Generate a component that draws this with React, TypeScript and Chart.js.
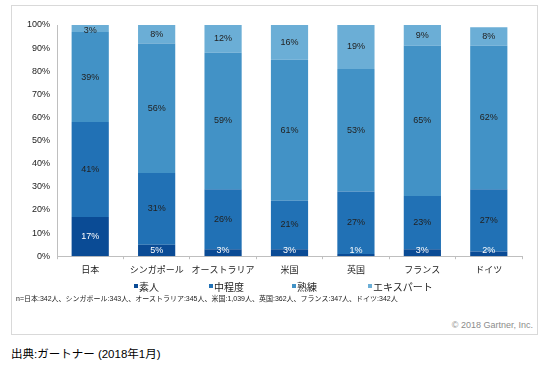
import React, { useEffect, useRef } from "react";
import { Chart, registerables } from "chart.js";

Chart.register(...registerables);

const categories = ["日本", "シンガポール", "オーストラリア", "米国", "英国", "フランス", "ドイツ"];
const seriesNames = ["素人", "中程度", "熟練", "エキスパート"];
const novice = [17, 5, 3, 3, 1, 3, 2];
const intermediate = [41, 31, 26, 21, 27, 23, 27];
const skilled = [39, 56, 59, 61, 53, 65, 62];
const expert = [3, 8, 12, 16, 19, 9, 8];
const yTicks = [0, 10, 20, 30, 40, 50, 60, 70, 80, 90, 100];
const colors = ["#0a4b95", "#2171b5", "#4292c6", "#6baed6"];
const labelColors = ["#ffffff", "#222222", "#222222", "#222222"];

const footnote = "n=日本:342人、シンガポール:343人、オーストラリア:345人、米国:1,039人、英国:362人、フランス:347人、ドイツ:342人";
const copyright = "© 2018 Gartner, Inc.";
const source = "出典:ガートナー (2018年1月)";
const legendX = [134, 209, 292, 368];

const FONT = "'Liberation Sans', 'Noto Sans CJK JP', Arial, sans-serif";

const labelPlugin = {
  id: "segLabels",
  afterDatasetsDraw(chart: any) {
    const ctx = chart.ctx;
    const area = chart.chartArea;
    ctx.save();
    ctx.font = `9px ${FONT}`;
    ctx.textAlign = "center";
    ctx.textBaseline = "middle";
    chart.data.datasets.forEach((ds: any, di: number) => {
      const meta = chart.getDatasetMeta(di);
      meta.data.forEach((el: any, i: number) => {
        const top = Math.max(el.y, area.top);
        const bottom = Math.min(el.base, area.bottom);
        let cy = (top + bottom) / 2;
        if (di === 0) cy = Math.min(cy, area.bottom - 6);
        if (di === chart.data.datasets.length - 1) cy = Math.max(cy, area.top + 6);
        ctx.fillStyle = labelColors[di];
        ctx.fillText(ds.data[i] + "%", el.x, cy);
      });
    });
    ctx.restore();
  },
};

export default function App() {
  const ref = useRef<HTMLCanvasElement>(null);
  useEffect(() => {
    if (!ref.current) return;
    const data = [novice, intermediate, skilled, expert];
    const chart = new Chart(ref.current, {
      type: "bar",
      data: {
        labels: categories,
        datasets: data.map((d, i) => ({
          label: seriesNames[i],
          data: d,
          backgroundColor: colors[i],
          borderWidth: 0,
          categoryPercentage: 1,
          barPercentage: 0.56,
        })),
      },
      options: {
        animation: false,
        responsive: false,
        maintainAspectRatio: false,
        layout: { padding: { left: 0, top: 25, right: 27, bottom: 6 } },
        plugins: {
          legend: { display: false },
          tooltip: { enabled: false },
        },
        scales: {
          x: {
            stacked: true,
            grid: { display: true, drawOnChartArea: false, drawTicks: true, tickLength: 3, color: "#bfbfbf", offset: true },
            border: { display: true, color: "#bfbfbf", width: 1 },
            ticks: { color: "#222", font: { family: FONT, size: 9 }, padding: 5.5, maxRotation: 0, autoSkip: false },
          },
          y: {
            stacked: true,
            min: 0,
            max: 100,
            afterFit: (scale: any) => { scale.width = 57; },
            afterBuildTicks: (scale: any) => { scale.ticks = yTicks.map((v) => ({ value: v })); },
            grid: { display: false, drawOnChartArea: false, drawTicks: false },
            border: { display: true, color: "#bfbfbf", width: 1 },
            ticks: { color: "#222", font: { family: FONT, size: 9 }, padding: 7, callback: (v: any) => v + "%" },
          },
        },
      },
      plugins: [labelPlugin],
    });
    return () => chart.destroy();
  }, []);

  return (
    <div style={{ position: "absolute", left: 0, top: 0, width: 549, height: 368, background: "#fff", fontFamily: FONT }}>
      <div style={{ position: "absolute", left: 11, top: 5, width: 527, height: 330, boxSizing: "border-box", border: "1px solid #d9d9d9" }} />
      <canvas ref={ref} width={549} height={287} style={{ position: "absolute", left: 0, top: 0, width: 549, height: 287 }} />
      {seriesNames.map((n, i) => (
        <div key={n} style={{ position: "absolute", left: legendX[i], top: 280, height: 12, display: "flex", alignItems: "center", fontSize: 10, color: "#222", whiteSpace: "nowrap" }}>
          <span style={{ display: "inline-block", width: 4, height: 4, background: colors[i], marginRight: 1 }} />
          <span>{n}</span>
        </div>
      ))}
      <div style={{ position: "absolute", left: 16, top: 294, fontSize: 7, lineHeight: "10px", color: "#222", whiteSpace: "nowrap" }}>{footnote}</div>
      <div style={{ position: "absolute", right: 549 - 533, top: 319, fontSize: 9, lineHeight: "12px", color: "#8c8c8c", whiteSpace: "nowrap" }}>{copyright}</div>
      <div style={{ position: "absolute", left: 11, top: 346, fontSize: 11.5, lineHeight: "16px", color: "#000", whiteSpace: "nowrap" }}>{source}</div>
    </div>
  );
}
